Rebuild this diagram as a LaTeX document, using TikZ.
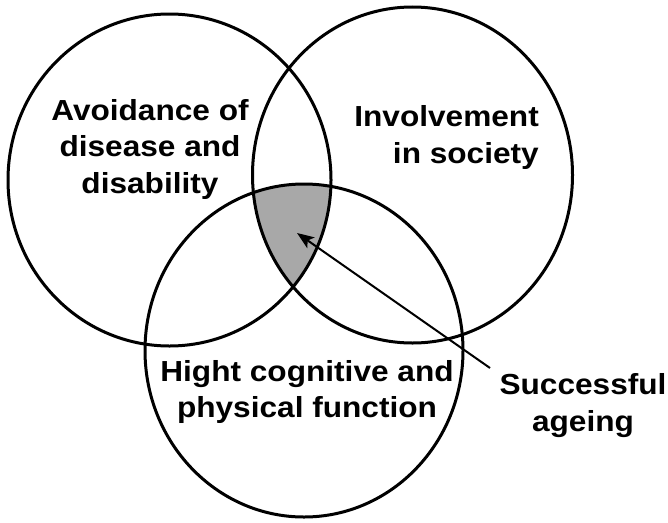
\documentclass[tikz,border=0pt]{standalone}
\usepackage{fontspec}
\setmainfont{Liberation Sans}
\usetikzlibrary{arrows.meta}
\definecolor{fillgray}{RGB}{168,168,168}
\begin{document}
\begin{tikzpicture}[x=1pt,y=-1pt,
  ring/.style={draw=black,line width=3pt},
  lbl/.style={font=\bfseries\fontsize{29}{36.5}\selectfont,inner sep=0pt,xscale=1.09,align=center},
  pointer/.style={line width=2pt,-{Stealth[length=17pt,width=13pt,inset=4pt]}}]
\useasboundingbox (0,0) rectangle (668,522);
\coordinate (cL) at (169.5,180);
\coordinate (cR) at (412.5,175);
\coordinate (cB) at (304,350.5);
\begin{scope}
  \clip (cL) ellipse [x radius=161.5pt, y radius=166pt];
  \clip (cR) ellipse [x radius=160pt, y radius=168pt];
  \fill[fillgray] (cB) ellipse [x radius=159pt, y radius=166.5pt];
\end{scope}
\draw[ring] (cL) ellipse [x radius=161.5pt, y radius=166pt];
\draw[ring] (cR) ellipse [x radius=160pt, y radius=168pt];
\draw[ring] (cB) ellipse [x radius=159pt, y radius=166.5pt];
\node[lbl] (avoid) at (150,149) {Avoidance of\\disease and\\disability};
\node[lbl,align=right,anchor=east] (involve) at (539,137.5) {Involvement\\in society};
\node[lbl] (hight) at (307,392) {Hight cognitive and\\physical function};
\node[lbl] (success) at (583,405.5) {Successful\\ageing};
\coordinate (tail) at (490,368);
\coordinate (tip) at (297,233);
\draw[pointer] (tail) -- (tip);
\end{tikzpicture}
\end{document}
